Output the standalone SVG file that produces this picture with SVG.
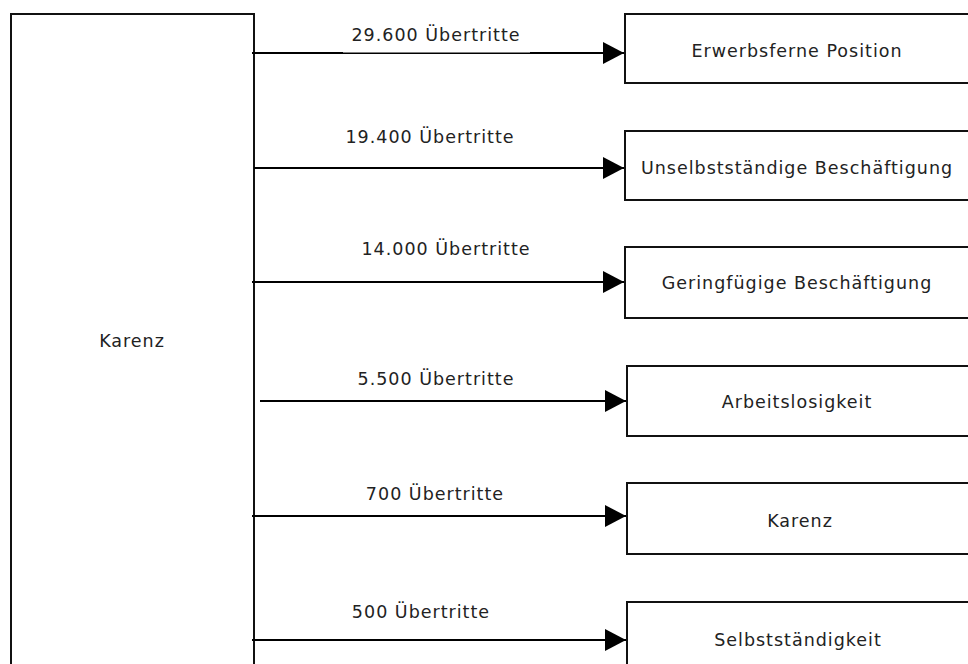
<svg xmlns="http://www.w3.org/2000/svg" width="968" height="664" viewBox="0 0 968 664">
<style>
.box{fill:#fff;stroke:#111;stroke-width:2}
.t{font-family:"DejaVu Sans","Liberation Sans",sans-serif;font-size:17.5px;letter-spacing:1px;fill:#222;text-anchor:middle}
.c{stroke:#000;stroke-width:2;fill:none}
</style>
<defs>
<marker id="ah" markerUnits="userSpaceOnUse" markerWidth="22" markerHeight="22" refX="21" refY="11" orient="auto">
<path d="M0,0 L21,11 L0,22 Z" fill="#000"/>
</marker>
</defs>
<rect width="968" height="664" fill="#fff"/>
<g id="karenz-src">
<rect class="box" x="11" y="14" width="243" height="670"/>
<text class="t" x="132" y="347">Karenz</text>
</g>
<g id="n1"><rect class="box" x="625" y="14" width="360" height="69"/><text class="t" x="797" y="57">Erwerbsferne Position</text></g>
<g id="n2"><rect class="box" x="625" y="131" width="360" height="69"/><text class="t" x="797" y="174">Unselbstständige Beschäftigung</text></g>
<g id="n3"><rect class="box" x="625" y="247" width="360" height="71"/><text class="t" x="797" y="289">Geringfügige Beschäftigung</text></g>
<g id="n4"><rect class="box" x="627" y="366" width="360" height="70"/><text class="t" x="797" y="408">Arbeitslosigkeit</text></g>
<g id="n5"><rect class="box" x="627" y="483" width="360" height="71"/><text class="t" x="800" y="527">Karenz</text></g>
<g id="n6"><rect class="box" x="627" y="602" width="360" height="80"/><text class="t" x="798" y="646">Selbstständigkeit</text></g>
<g id="connectors">
<line class="c" x1="252" y1="53" x2="624" y2="53" marker-end="url(#ah)"/>
<rect x="343" y="30" width="187" height="22.5" fill="#fff"/>
<text class="t" x="436" y="41">29.600 Übertritte</text>
<line class="c" x1="254" y1="168" x2="624" y2="168" marker-end="url(#ah)"/>
<text class="t" x="430" y="143">19.400 Übertritte</text>
<line class="c" x1="252" y1="282" x2="624" y2="282" marker-end="url(#ah)"/>
<text class="t" x="446" y="255">14.000 Übertritte</text>
<line class="c" x1="260" y1="401" x2="626" y2="401" marker-end="url(#ah)"/>
<text class="t" x="436" y="385">5.500 Übertritte</text>
<line class="c" x1="252" y1="516" x2="626" y2="516" marker-end="url(#ah)"/>
<text class="t" x="435" y="500">700 Übertritte</text>
<line class="c" x1="252" y1="640" x2="626" y2="640" marker-end="url(#ah)"/>
<text class="t" x="421" y="618">500 Übertritte</text>
</g>
</svg>
